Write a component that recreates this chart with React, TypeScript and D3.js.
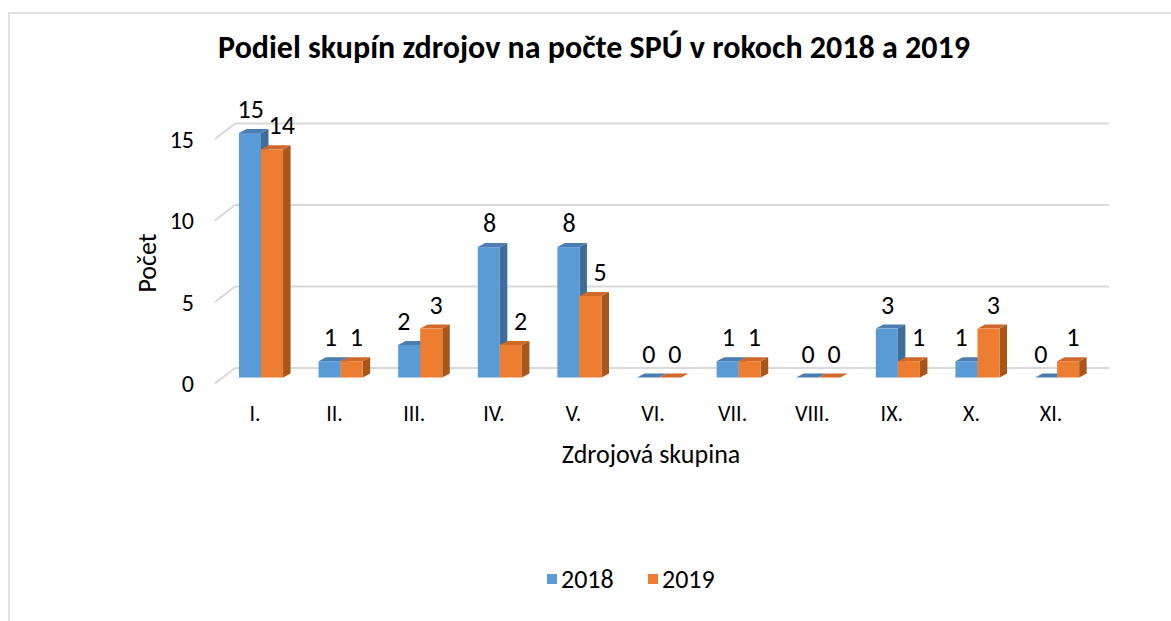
import React from "react";
import * as d3 from "d3";

const categories = ["I.", "II.", "III.", "IV.", "V.", "VI.", "VII.", "VIII.", "IX.", "X.", "XI."];
const values2018 = [15, 1, 2, 8, 8, 0, 1, 0, 3, 1, 0];
const values2019 = [14, 1, 3, 2, 5, 0, 1, 0, 1, 3, 1];
const yTicks = [0, 5, 10, 15];
const seriesNames = ["2018", "2019"];

const W = 1171;
const H = 621;
const FONT = "Carlito, Calibri, Lato, 'Liberation Sans', sans-serif";

const colors = [
  { front: "#5B9BD5", top: "#4A7DB0", side: "#3F6D99" },
  { front: "#ED7D31", top: "#D0692A", side: "#A9561B" },
];

export default function App() {
  const yBar = d3.scaleLinear().domain([0, 15]).range([377.5, 133]);
  const backOff = -9.5;
  const yBack = (v: number) => yBar(v) + backOff;
  const diagDx = -20;
  const diagDy = 15.5;
  const floorLeft = 235;
  const floorRight = 1109;

  const x = d3.scaleBand<string>().domain(categories).range([221.2, 1096.9]).padding(0);
  const bw = x.bandwidth() * 0.277;
  const depthX = 7.5;
  const depthY = -4;
  const series = [values2018, values2019];

  const bars: React.ReactNode[] = [];
  const labels: React.ReactNode[] = [];
  categories.forEach((c, i) => {
    const center = (x(c) as number) + x.bandwidth() / 2;
    series.forEach((vals, s) => {
      const v = vals[i];
      const other = series[1 - s][i];
      const x0 = center - bw + s * bw;
      const x1 = x0 + bw;
      const yt = yBar(v);
      const y0 = yBar(0);
      const col = colors[s];
      const side = `${x1},${yt} ${x1 + depthX},${yt + depthY} ${x1 + depthX},${y0 + depthY} ${x1},${y0}`;
      const top = `${x0},${yt} ${x0 + depthX},${yt + depthY} ${x1 + depthX},${yt + depthY} ${x1},${yt}`;
      bars.push(
        <g key={`b${i}-${s}`}>
          <polygon points={side} fill={col.side} />
          <polygon points={top} fill={col.top} />
          {v > 0 && <rect x={x0} y={yt} width={bw} height={y0 - yt} fill={col.front} />}
        </g>
      );
      let nudge = s === 0 ? -3 : 1;
      if (v < other) nudge = s === 0 ? -9 : 6;
      labels.push(
        <text
          key={`l${i}-${s}`}
          x={(x0 + x1) / 2 + depthX / 2 + nudge}
          y={yt - 24}
          textAnchor="middle"
          dominantBaseline="central"
          fontSize={26}
          fill="#000"
        >
          {v}
        </text>
      );
    });
  });

  return (
    <svg
      width={W}
      height={H}
      style={{ position: "absolute", left: 0, top: 0, background: "#fff" }}
      fontFamily={FONT}
    >
      <rect x={9} y={13} width={W + 20} height={H + 20} fill="#fff" stroke="#D9D9D9" strokeWidth={1.5} />
      <text x={594} y={47} textAnchor="middle" dominantBaseline="central" fontSize={32} fontWeight="bold" fill="#000">
        Podiel skupín zdrojov na počte SPÚ v rokoch 2018 a 2019
      </text>
      <g stroke="#D9D9D9" strokeWidth={2} fill="none">
        {yTicks.map((t) => (
          <g key={`g${t}`}>
            <line x1={floorLeft} x2={floorRight} y1={yBack(t)} y2={yBack(t)} />
            <line x1={floorLeft + diagDx} x2={floorLeft} y1={yBack(t) + diagDy} y2={yBack(t)} />
          </g>
        ))}
      </g>
      <g fontSize={24} fill="#000">
        {yTicks.map((t) => (
          <text key={`t${t}`} x={194} y={yBack(t) + diagDy} textAnchor="end" dominantBaseline="central">
            {t}
          </text>
        ))}
      </g>
      {bars}
      {labels}
      <g fontSize={22} fill="#000">
        {categories.map((c) => (
          <text
            key={`c${c}`}
            x={(x(c) as number) + x.bandwidth() / 2 - 6}
            y={413}
            textAnchor="middle"
            dominantBaseline="central"
          >
            {c}
          </text>
        ))}
      </g>
      <text x={651} y={454} textAnchor="middle" dominantBaseline="central" fontSize={26} fill="#000">
        Zdrojová skupina
      </text>
      <text
        transform="translate(147,263) rotate(-90)"
        textAnchor="middle"
        dominantBaseline="central"
        fontSize={26}
        fill="#000"
      >
        Počet
      </text>
      <g fontSize={26} fill="#000">
        {seriesNames.map((n, i) => (
          <g key={n} transform={`translate(${547 + i * 101},574)`}>
            <rect x={0} y={0} width={10} height={10} fill={colors[i].front} />
            <text x={14} y={5} dominantBaseline="central">
              {n}
            </text>
          </g>
        ))}
      </g>
    </svg>
  );
}
